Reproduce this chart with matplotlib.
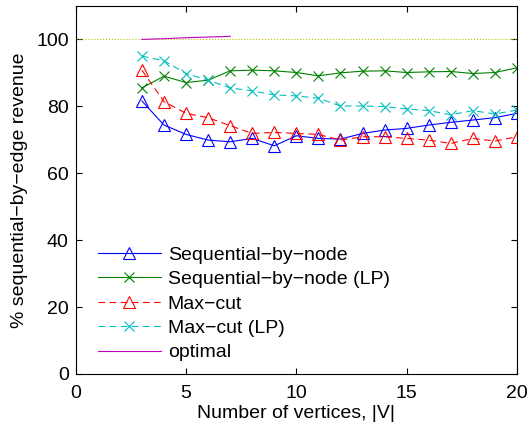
import numpy as np
import matplotlib
matplotlib.use("Agg")
import matplotlib.pyplot as plt

plt.rcParams['font.family'] = ['Liberation Sans', 'DejaVu Sans']

n = np.arange(3, 21)
seq_node = [81.6, 74.4, 71.6, 69.9, 69.4, 70.4, 68.2, 71.2, 70.4, 70.2,
            71.9, 72.9, 73.4, 74.4, 75.2, 75.9, 76.6, 77.9]
seq_node_lp = [85.5, 89.0, 87.1, 87.8, 90.6, 90.8, 90.6, 90.1, 89.1, 90.0,
               90.5, 90.6, 90.1, 90.3, 90.4, 89.8, 90.1, 91.5]
max_cut = [90.8, 81.4, 77.9, 76.6, 74.2, 71.9, 72.2, 71.9, 71.6, 69.9,
           70.9, 70.9, 70.4, 69.9, 68.9, 70.4, 69.6, 70.9]
max_cut_lp = [95.0, 93.6, 89.8, 87.8, 85.5, 84.6, 83.4, 83.1, 82.4, 80.1,
              80.1, 79.9, 79.2, 78.7, 77.5, 78.7, 77.7, 78.9]
n_opt = np.arange(3, 8)
optimal = [100.0, 100.2, 100.5, 100.7, 100.9]

fs = 14
fig = plt.figure(figsize=(5.27, 4.32), dpi=100)
ax = fig.add_axes([0.1437, 0.1343, 0.8373, 0.852])

ax.axhline(100, color=(0.75, 0.75, 0), ls=':', lw=0.8)
ax.plot(n, seq_node, color='b', marker='^', ms=8.5, mfc='none', mew=0.8, lw=0.8,
        label='Sequential\u2212by\u2212node')
ax.plot(n, seq_node_lp, color=(0, 0.5, 0), marker='x', ms=7, mew=0.8, lw=0.8,
        label='Sequential\u2212by\u2212node (LP)')
ax.plot(n, max_cut, color='r', marker='^', ms=8.5, mfc='none', mew=0.8, lw=0.8,
        dashes=(6, 4), label='Max\u2212cut')
ax.plot(n, max_cut_lp, color=(0, 0.75, 0.75), marker='x', ms=7, mew=0.8, lw=0.8,
        dashes=(6, 4), label='Max\u2212cut (LP)')
ax.plot(n_opt, optimal, color=(0.75, 0, 0.75), lw=0.8, label='optimal')

ax.set_xlim(0, 20)
ax.set_ylim(0, 110)
ax.set_xticks([0, 5, 10, 15, 20])
ax.set_yticks([0, 20, 40, 60, 80, 100])
ax.tick_params(direction='in', labelsize=fs, length=4, top=True, right=True, pad=5)
ax.tick_params(axis='x', pad=8)
ax.set_xlabel('Number of vertices, |V|', fontsize=fs, labelpad=2)
ax.set_ylabel('% sequential\u2212by\u2212edge revenue', fontsize=fs, labelpad=6)

ax.legend(loc='lower left', bbox_to_anchor=(0.032, 0.013), frameon=False,
          fontsize=fs, handlelength=3.25, handletextpad=0.36,
          labelspacing=0.35, borderaxespad=0)

fig.savefig('out.png', dpi=100)
